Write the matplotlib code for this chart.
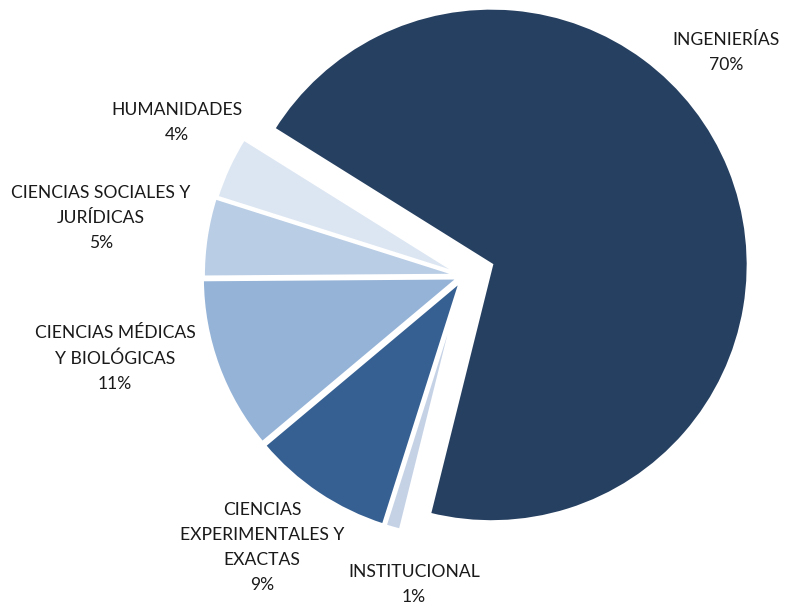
import matplotlib
matplotlib.use("Agg")
import matplotlib.pyplot as plt

categories = ["INGENIERÍAS", "INSTITUCIONAL", "CIENCIAS\nEXPERIMENTALES Y\nEXACTAS",
              "CIENCIAS MÉDICAS\nY BIOLÓGICAS", "CIENCIAS SOCIALES Y\nJURÍDICAS", "HUMANIDADES"]
values = [70, 1, 9, 11, 5, 4]
pct_labels = ["70%", "1%", "9%", "11%", "5%", "4%"]
colors = ["#264061", "#c5d2e6", "#366092", "#95b3d7", "#b9cde5", "#dce6f2"]
explode = [0.115, 0.02, 0.02, 0.02, 0.015, 0.01]

W, H = 786, 607
fig = plt.figure(figsize=(W / 100, H / 100), dpi=100)
ax = fig.add_axes([0, 0, 1, 1])
R = 257.0
cx, cy = 464.0, 276.0

ax.pie(values, colors=colors, explode=explode, startangle=148, counterclock=False,
       radius=1.0, wedgeprops=dict(edgecolor="white", linewidth=2.5), frame=True)
ax.set_aspect("equal")
ax.set_xlim(-cx / R, (W - cx) / R)
ax.set_ylim(-(H - cy) / R, cy / R)
ax.axis("off")

# label positions in pixels (center x, top y)
label_pos = [(726, 32), (414, 564), (262, 502), (115, 325), (101, 185), (177, 102)]
font = ["Lato", "DejaVu Sans"]
for cat, pct, (px, py) in zip(categories, pct_labels, label_pos):
    fig.text(px / W, 1 - py / H, cat + "\n" + pct, ha="center", va="top",
             fontsize=12.6, family=font, linespacing=1.68, color="#1a1a1a")

fig.savefig("out.png", dpi=100, facecolor="white")
